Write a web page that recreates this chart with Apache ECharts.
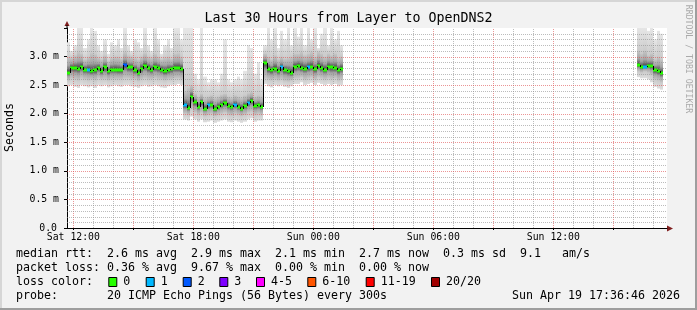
<!DOCTYPE html>
<html><head><meta charset="utf-8">
<script src="https://cdn.jsdelivr.net/npm/echarts@6/dist/echarts.min.js"></script>
<style>html,body{margin:0;padding:0;background:#f2f2f2}#c{width:697px;height:310px}</style>
</head><body><div id="c"></div>
<script>
// ---------- data ----------
const titleText = 'Last 30 Hours from Layer to OpenDNS2';
const yAxisName = 'Seconds';
const sideText = 'RRDTOOL / TOBI OETIKER';
// x axis in minutes since Sat 00:00
const xRange = [701, 2501];
const xLabelValues = [720, 1080, 1440, 1800, 2160];
const xLabelTexts = ['Sat 12:00', 'Sat 18:00', 'Sun 00:00', 'Sun 06:00', 'Sun 12:00'];
const yRange = [0, 3.5];
const yLabelValues = [0, 0.5, 1, 1.5, 2, 2.5, 3];
const yLabelTexts = ['0.0', '0.5 m', '1.0 m', '1.5 m', '2.0 m', '2.5 m', '3.0 m'];
const stepMin = 10;

const times = [
  705,715,725,735,745,755,765,775,785,795,805,815,825,835,845,855,865,875,885,895,905,915,925,935,945,955,965,975,985,995,1005,1015,1025,1035,1045,
  1055,1065,1075,1085,1095,1105,1115,1125,1135,1145,1155,1165,1175,1185,1195,1205,1215,1225,1235,1245,1255,1265,1275,1285,
  1295,1305,1315,1325,1335,1345,1355,1365,1375,1385,1395,1405,1415,1425,1435,1445,1455,1465,1475,1485,1495,1505,1515,1525,
  2415,2425,2435,2445,2455,2465,2475,2485
];
// median rtt (ms)
const median = [
  2.72,2.80,2.80,2.79,2.82,2.77,2.77,2.74,2.76,2.80,2.74,2.81,2.74,2.77,2.77,2.76,2.76,2.85,2.81,2.81,2.76,2.72,2.79,2.84,2.80,2.77,2.81,2.80,2.77,2.74,2.76,2.78,2.80,2.80,2.79,
  2.15,2.10,2.30,2.20,2.12,2.20,2.09,2.15,2.16,2.08,2.12,2.16,2.19,2.14,2.12,2.16,2.12,2.09,2.14,2.19,2.23,2.14,2.15,2.12,
  2.89,2.78,2.76,2.79,2.75,2.81,2.76,2.74,2.71,2.82,2.84,2.80,2.79,2.81,2.82,2.78,2.84,2.80,2.77,2.82,2.81,2.80,2.76,2.79,
  2.85,2.81,2.82,2.84,2.83,2.76,2.74,2.71
];
const smokeMax = [
  3.25,3.10,3.20,3.50,3.50,3.15,3.30,3.50,3.45,3.20,3.10,3.30,3.05,3.25,3.20,3.30,3.15,3.50,3.20,3.10,3.30,3.25,3.15,3.50,3.20,3.10,3.50,3.30,3.05,3.20,3.30,3.15,3.50,3.50,3.30,
  3.50,3.50,3.50,2.70,2.60,3.50,2.65,2.55,2.60,2.60,2.55,2.70,3.30,2.60,2.55,2.60,2.65,2.60,2.75,3.20,3.15,2.70,2.90,2.60,
  3.20,3.50,3.30,3.50,3.15,3.45,3.30,3.50,3.20,3.50,3.35,3.50,3.20,3.50,3.30,3.50,3.15,3.40,3.50,3.20,3.50,3.30,3.45,3.20,
  3.50,3.50,3.50,3.45,3.50,3.30,3.45,3.40
];
const smokeHi = [
  3.00,2.98,3.02,3.08,3.05,2.95,3.00,3.06,3.04,2.98,2.95,3.02,2.92,2.98,3.00,3.00,2.96,3.08,3.02,3.00,2.98,2.95,3.00,3.06,3.00,2.98,3.05,3.00,2.95,2.98,3.00,2.96,3.05,3.06,3.00,
  2.40,2.45,2.50,2.35,2.30,2.35,2.28,2.30,2.32,2.28,2.30,2.33,2.35,2.30,2.28,2.32,2.30,2.28,2.32,2.36,2.38,2.30,2.32,2.30,
  3.05,3.00,2.95,3.02,2.95,3.00,2.96,2.98,3.00,3.05,3.05,3.08,3.02,3.05,3.08,3.00,3.08,3.05,3.00,3.05,3.02,3.05,2.98,3.00,
  3.10,3.05,3.10,3.02,3.05,2.95,3.00,2.95
];
const smokeLo = [
  2.58,2.62,2.60,2.58,2.62,2.60,2.58,2.60,2.58,2.62,2.60,2.60,2.58,2.60,2.60,2.60,2.60,2.62,2.62,2.60,2.60,2.57,2.60,2.62,2.60,2.60,2.62,2.60,2.60,2.58,2.60,2.60,2.62,2.62,2.60,
  2.00,1.98,2.08,2.02,1.98,2.02,1.96,1.98,2.00,1.96,1.98,2.00,2.02,1.98,1.97,2.00,1.98,1.96,1.98,2.02,2.04,1.98,2.00,1.98,
  2.62,2.60,2.58,2.60,2.58,2.60,2.57,2.56,2.58,2.62,2.62,2.64,2.60,2.62,2.64,2.60,2.64,2.62,2.60,2.62,2.60,2.62,2.58,2.60,
  2.74,2.72,2.74,2.72,2.68,2.60,2.58,2.55
];
const smokeMin = [
  2.48,2.50,2.47,2.45,2.50,2.48,2.46,2.48,2.45,2.50,2.48,2.50,2.46,2.48,2.50,2.48,2.47,2.50,2.50,2.48,2.47,2.45,2.48,2.50,2.47,2.48,2.50,2.48,2.46,2.45,2.48,2.50,2.50,2.52,2.50,
  1.90,1.88,1.95,1.90,1.86,1.90,1.85,1.86,1.88,1.84,1.86,1.88,1.90,1.86,1.85,1.88,1.86,1.84,1.86,1.90,1.92,1.86,1.88,1.88,
  2.52,2.48,2.46,2.50,2.48,2.50,2.47,2.45,2.48,2.52,2.52,2.55,2.50,2.52,2.54,2.50,2.54,2.52,2.50,2.52,2.50,2.52,2.48,2.50,
  2.64,2.62,2.62,2.60,2.55,2.47,2.44,2.42
];
const lostPings = [
  0,0,0,0,0,0,1,0,0,0,0,0,0,0,0,0,0,2,0,0,0,0,0,0,0,0,0,0,0,0,0,0,0,0,0,
  1,0,0,0,0,0,0,1,0,0,0,0,0,0,0,1,0,0,0,1,0,0,0,0,
  0,0,0,0,0,1,0,0,0,0,0,0,0,1,0,0,0,0,0,0,0,0,0,0,
  0,0,1,0,0,0,0,0
];
const lossLabels = ['0', '1', '2', '3', '4-5', '6-10', '11-19', '20/20'];
const lossColors = ['#26ff00', '#00b8ff', '#0059ff', '#7e00ff', '#ff00ff', '#ff5500', '#ff0000', '#a10000'];
const rttTitle = 'median rtt:';
const rttStats = ['2.6 ms avg', '2.9 ms max', '2.1 ms min', '2.7 ms now', '0.3 ms sd', '9.1   am/s'];
const lossTitle = 'packet loss:';
const lossStats = ['0.36 % avg', '9.67 % max', '0.00 % min', '0.00 % now'];
const lossColorTitle = 'loss color:';
const probeTitle = 'probe:';
const probeText = '20 ICMP Echo Pings (56 Bytes) every 300s';
const stampText = 'Sun Apr 19 17:36:46 2026';

// ---------- helpers / layout ----------
const MONO = "'DejaVu Sans Mono', monospace";
function lossIndex(n) {
  if (n <= 3) return n;
  if (n <= 5) return 4;
  if (n <= 10) return 5;
  if (n <= 19) return 6;
  return 7;
}
const hourLines = [];
for (let m = 720; m < xRange[1]; m += 60) hourLines.push(m);
const levelLines = [];
for (let k = 1; k < 35; k++) levelLines.push(k / 10);

const chart = echarts.init(document.getElementById('c'), null, {renderer: 'canvas'});

const smokeData = times.map((t, i) => [t, smokeMax[i], smokeHi[i], smokeLo[i], smokeMin[i], median[i]]);
const medData = times.map((t, i) => [t, median[i], lostPings[i]]);

const LEG_FS = 11.63; // 7px per character
function T(x, y, s, align) {
  return {type: 'text', x: x, y: y, silent: true,
    style: {text: s, align: align || 'left', verticalAlign: 'middle', fontFamily: MONO, fontSize: LEG_FS, fill: '#000'}};
}
function pad(s, n) { while (s.length < n) s += ' '; return s; }
const graphics = [];
// frame
graphics.push({type: 'rect', shape: {x: 0, y: 0, width: 697, height: 2}, style: {fill: '#d6d6d6'}, silent: true});
graphics.push({type: 'rect', shape: {x: 0, y: 0, width: 2, height: 310}, style: {fill: '#d6d6d6'}, silent: true});
graphics.push({type: 'rect', shape: {x: 0, y: 308, width: 697, height: 2}, style: {fill: '#9e9e9e'}, silent: true});
graphics.push({type: 'rect', shape: {x: 695, y: 0, width: 2, height: 310}, style: {fill: '#9e9e9e'}, silent: true});
// title
graphics.push({type: 'text', x: 348.5, y: 19, silent: true,
  style: {text: titleText, align: 'center', verticalAlign: 'middle', fontFamily: MONO, fontSize: 13.3, fill: '#000'}});
// y name
graphics.push({type: 'text', x: 10, y: 127.5, rotation: Math.PI / 2, silent: true,
  style: {text: yAxisName, align: 'center', verticalAlign: 'middle', fontFamily: MONO, fontSize: 11.6, fill: '#000'}});
// side credit
graphics.push({type: 'text', x: 688, y: 59, rotation: -Math.PI / 2, silent: true,
  style: {text: sideText, align: 'center', verticalAlign: 'middle', fontFamily: MONO, fontSize: 8.2, fill: '#aaaaaa'}});
// arrows
graphics.push({type: 'polygon', silent: true, shape: {points: [[64.5, 26], [67, 21], [69.5, 26]]}, style: {fill: '#801f1f'}});
graphics.push({type: 'rect', silent: true, shape: {x: 66.5, y: 25, width: 1, height: 3}, style: {fill: '#000'}});
graphics.push({type: 'polygon', silent: true, shape: {points: [[667, 225.5], [673, 228.5], [667, 231.5]]}, style: {fill: '#801f1f'}});
// legend rows (monospace, 13-char label column)
graphics.push(T(16, 254.3, pad(rttTitle, 13) + rttStats.join('  ')));
graphics.push(T(16, 268.3, pad(lossTitle, 13) + lossStats.join('  ')));
graphics.push(T(16, 282.3, lossColorTitle));
const boxX = [108.3, 145.7, 182.7, 219.3, 256, 307.3, 365.7, 431];
lossLabels.forEach((s, i) => {
  graphics.push({type: 'rect', silent: true, shape: {x: boxX[i] + 0.5, y: 277.5, width: 8, height: 9},
    style: {fill: lossColors[i], stroke: '#000', lineWidth: 1}});
  graphics.push(T(boxX[i] + 15, 282.3, s));
});
graphics.push(T(16, 296.3, pad(probeTitle, 13) + probeText));
graphics.push(T(680, 296.3, stampText, 'right'));

const GRID_MINOR = 'rgba(143,143,143,0.6)';
const GRID_MAJOR = 'rgba(222,79,79,0.6)';

const option = {
  backgroundColor: '#f2f2f2',
  animation: false,
  grid: {left: 67, top: 28, width: 600, height: 200, show: true, backgroundColor: '#ffffff', borderWidth: 0},
  xAxis: {
    type: 'value', min: xRange[0], max: xRange[1],
    axisLine: {show: true, lineStyle: {color: '#000', width: 1}},
    axisTick: {show: true, customValues: hourLines.filter(m => m % 180 === 0), length: 2, lineStyle: {color: '#000'}},
    axisLabel: {show: true, customValues: xLabelValues, margin: 4, color: '#000', fontFamily: MONO, fontSize: 9.8,
      formatter: v => { const k = xLabelValues.indexOf(v); return k >= 0 ? xLabelTexts[k] : ''; }},
    splitLine: {show: false}
  },
  yAxis: {
    type: 'value', min: yRange[0], max: yRange[1], interval: 0.5,
    axisLine: {show: true, onZero: false, lineStyle: {color: '#000', width: 1}},
    axisTick: {show: true, length: 3, lineStyle: {color: '#000'}},
    axisLabel: {show: true, margin: 8, color: '#000', fontFamily: MONO, fontSize: 9.8,
      formatter: v => {
        const k = yLabelValues.findIndex(a => Math.abs(a - v) < 1e-6);
        if (k < 0) return '';
        return k === 0 ? '{z|' + yLabelTexts[k] + '}' : yLabelTexts[k];
      },
      rich: {z: {fontFamily: MONO, fontSize: 9.8, color: '#000', padding: [0, 2, 0, 0]}}},
    splitLine: {show: false}
  },
  series: [
    {
      type: 'custom', name: 'smoke', silent: true, clip: true, z: 2,
      data: smokeData, encode: {x: 0, y: [1, 2, 3, 4, 5]},
      renderItem(params, api) {
        const t = api.value(0);
        const xa = Math.round(api.coord([t - stepMin / 2, 0])[0]);
        const xb = Math.round(api.coord([t + stepMin / 2, 0])[0]);
        const Y = v => api.coord([t, v])[1];
        const yMax = Y(api.value(1)), yHi = Y(api.value(2)), yLo = Y(api.value(3)), yMin = Y(api.value(4)), yMed = Y(api.value(5));
        let f = (yMed - yHi) / (yLo - yHi);
        f = Math.min(0.9, Math.max(0.1, f));
        const H = yMin - yMax;
        const gHi = Math.min(0.99, Math.max(0.01, (yHi - yMax) / H));
        const gLo = Math.min(0.995, Math.max(gHi + 0.001, (yLo - yMax) / H));
        return {type: 'group', children: [
          {type: 'rect', shape: {x: xa, y: yMax, width: xb - xa, height: H},
            style: {fill: new echarts.graphic.LinearGradient(0, 0, 0, 1, [
              {offset: 0, color: '#e6e6e6'},
              {offset: gHi, color: '#cbcbcb'},
              {offset: gLo, color: '#cbcbcb'},
              {offset: 1, color: '#dedede'}])}},
          {type: 'rect', shape: {x: xa, y: yHi, width: xb - xa, height: yLo - yHi},
            style: {fill: new echarts.graphic.LinearGradient(0, 0, 0, 1, [
              {offset: 0, color: '#c6c6c6'},
              {offset: f * 0.55, color: '#a4a4a4'},
              {offset: f, color: '#3c3c3c'},
              {offset: f + (1 - f) * 0.45, color: '#a4a4a4'},
              {offset: 1, color: '#c6c6c6'}])}}
        ]};
      }
    },
    {
      type: 'custom', name: 'vgrid', silent: true, clip: true, z: 3,
      data: hourLines.map(m => [m, 0]), encode: {x: 0, y: 1},
      renderItem(params, api) {
        const m = api.value(0);
        const x = Math.round(api.coord([m, 0])[0]) + 0.5;
        const y0 = api.coord([m, yRange[0]])[1], y1 = api.coord([m, yRange[1]])[1];
        const major = m % 180 === 0;
        return {type: 'line', shape: {x1: x, y1: y0, x2: x, y2: y1},
          style: {stroke: major ? GRID_MAJOR : GRID_MINOR, lineWidth: 1, lineDash: [1, 1]}};
      }
    },
    {
      type: 'custom', name: 'hgrid', silent: true, clip: true, z: 3,
      data: levelLines.map(v => [xRange[0], v]), encode: {x: 0, y: 1},
      renderItem(params, api) {
        const v = api.value(1);
        const y = Math.round(api.coord([xRange[0], v])[1]) + 0.5;
        const x0 = api.coord([xRange[0], v])[0], x1 = api.coord([xRange[1], v])[0];
        const major = Math.round(v * 10) % 5 === 0;
        return {type: 'line', shape: {x1: x0, y1: y, x2: x1, y2: y},
          style: {stroke: major ? GRID_MAJOR : GRID_MINOR, lineWidth: 1, lineDash: [1, 1]}};
      }
    },
    {
      type: 'custom', name: 'median', silent: true, clip: true, z: 4,
      data: medData, encode: {x: 0, y: 1},
      renderItem(params, api) {
        const i = params.dataIndex;
        const t = api.value(0);
        const xa = Math.round(api.coord([t - stepMin / 2, 0])[0]);
        const xb = Math.round(api.coord([t + stepMin / 2, 0])[0]);
        const ym = api.coord([t, api.value(1)])[1];
        const col = lossColors[lossIndex(api.value(2))];
        const children = [
          {type: 'rect', shape: {x: xa, y: Math.round(ym) - 1.5, width: xb - xa, height: 3}, style: {fill: col}}
        ];
        if (i > 0 && times[i] - times[i - 1] === stepMin) {
          const yp = api.coord([times[i - 1], median[i - 1]])[1];
          children.push({type: 'line', shape: {x1: xa + 0.5, y1: Math.round(yp), x2: xa + 0.5, y2: Math.round(ym)},
            style: {stroke: '#000', lineWidth: 1}});
        }
        return {type: 'group', children};
      }
    }
  ],
  graphic: graphics
};
chart.setOption(option);
</script>
</body></html>
